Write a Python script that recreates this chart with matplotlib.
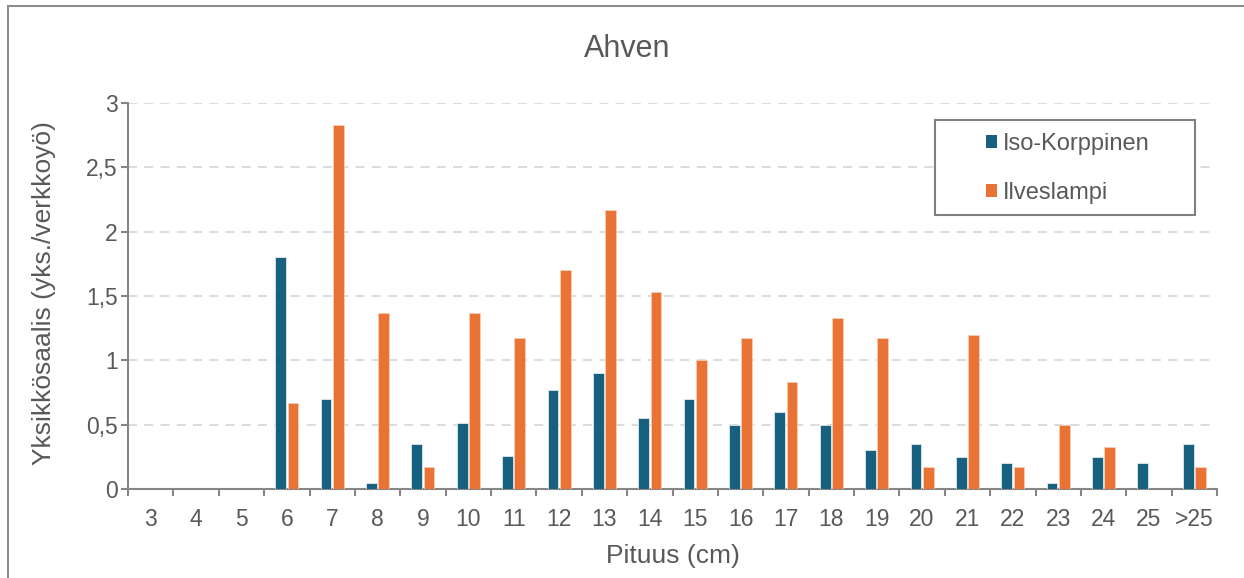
import matplotlib
matplotlib.use('Agg')
from matplotlib import pyplot as plt
from matplotlib.patches import Rectangle
import numpy as np

plt.rcParams['font.family'] = ['Liberation Sans', 'DejaVu Sans']

# data
categories = ['3', '4', '5', '6', '7', '8', '9', '10', '11', '12', '13', '14',
              '15', '16', '17', '18', '19', '20', '21', '22', '23', '24', '25', '>25']
iso_korppinen = [0, 0, 0, 1.8, 0.7, 0.05, 0.35, 0.51, 0.26, 0.77, 0.9, 0.55,
                 0.7, 0.5, 0.6, 0.5, 0.3, 0.35, 0.25, 0.2, 0.05, 0.25, 0.2, 0.35]
ilveslampi = [0, 0, 0, 0.67, 2.83, 1.37, 0.17, 1.37, 1.17, 1.7, 2.17, 1.53,
              1.0, 1.17, 0.83, 1.33, 1.17, 0.17, 1.2, 0.17, 0.5, 0.33, 0, 0.17]
yticks = [0, 0.5, 1, 1.5, 2, 2.5, 3]
ytick_labels = ['0', '0,5', '1', '1,5', '2', '2,5', '3']

blue = '#17607f'
orange = '#e87335'
txt = '#595959'
axcol = '#868686'

W, H = 1244, 578
fig = plt.figure(figsize=(W / 100, H / 100), dpi=100, facecolor='white')
# outer frame of the chart area
fig.patches.append(Rectangle((8 / W, -0.01), 1.0, 1 - 6 / H + 0.01,
                             transform=fig.transFigure, fill=False,
                             edgecolor='#8c8c8c', linewidth=1.5))

ax = fig.add_axes([128 / W, 1 - 489 / H, (1217 - 128) / W, (489 - 103) / H])
x = np.arange(len(categories))
w = 0.235
ax.bar(x - 0.135, iso_korppinen, width=w, color=blue, edgecolor='#dfe9ee',
       linewidth=0.6, label='Iso-Korppinen', zorder=3)
ax.bar(x + 0.135, ilveslampi, width=w, color=orange, edgecolor='#f7cdb6',
       linewidth=0.6, label='Ilveslampi', zorder=3)

ax.set_xlim(-0.5, len(categories) - 0.5)
ax.set_ylim(0, 3)
ax.set_yticks(yticks)
ax.set_yticklabels(ytick_labels)
ax.set_xticks(x)
ax.set_xticklabels(categories)
ax.set_xticks(np.arange(len(categories) + 1) - 0.5, minor=True)
ax.tick_params(axis='x', which='major', length=0, pad=14, labelsize=16.5, labelcolor=txt)
ax.tick_params(axis='x', which='minor', length=5, width=1.5, color=axcol, direction='out')
ax.tick_params(axis='y', length=5, width=1.5, color=axcol, labelsize=16.5, labelcolor=txt, pad=2.5)

ax.grid(axis='y', color='#d9d9d9', linestyle=(0, (5, 4)), linewidth=1.3, zorder=0)
ax.set_axisbelow(True)
for s in ['top', 'right']:
    ax.spines[s].set_visible(False)
for s in ['left', 'bottom']:
    ax.spines[s].set_color(axcol)
    ax.spines[s].set_linewidth(1.5)

fig.text(627.5 / W, 1 - 57 / H, 'Ahven', fontsize=22, color=txt, ha='center', va='baseline')
fig.text(672.5 / W, 1 - 563 / H, 'Pituus (cm)', fontsize=19, color=txt, ha='center', va='baseline')
fig.text(44 / W, 1 - 293 / H, 'Yksikkösaalis (yks./verkkoyö)', fontsize=19, color=txt,
         rotation=90, ha='center', va='center')

# legend box
fig.patches.append(Rectangle((935 / W, 1 - 215 / H), 260 / W, 95 / H,
                             transform=fig.transFigure, facecolor='white',
                             edgecolor='#808080', linewidth=1.5, zorder=5))
leg = fig.legend(*ax.get_legend_handles_labels(), loc='upper left',
                 bbox_to_anchor=(986 / W, 1 - 133 / H), frameon=False,
                 fontsize=17, labelcolor=txt, handlelength=0.47, handleheight=0.47,
                 handletextpad=0.25, labelspacing=1.15, borderpad=0, borderaxespad=0)
leg.set_zorder(6)
for h in leg.legend_handles:
    h.set_edgecolor('none')

fig.savefig('out.png', dpi=100, facecolor='white')
